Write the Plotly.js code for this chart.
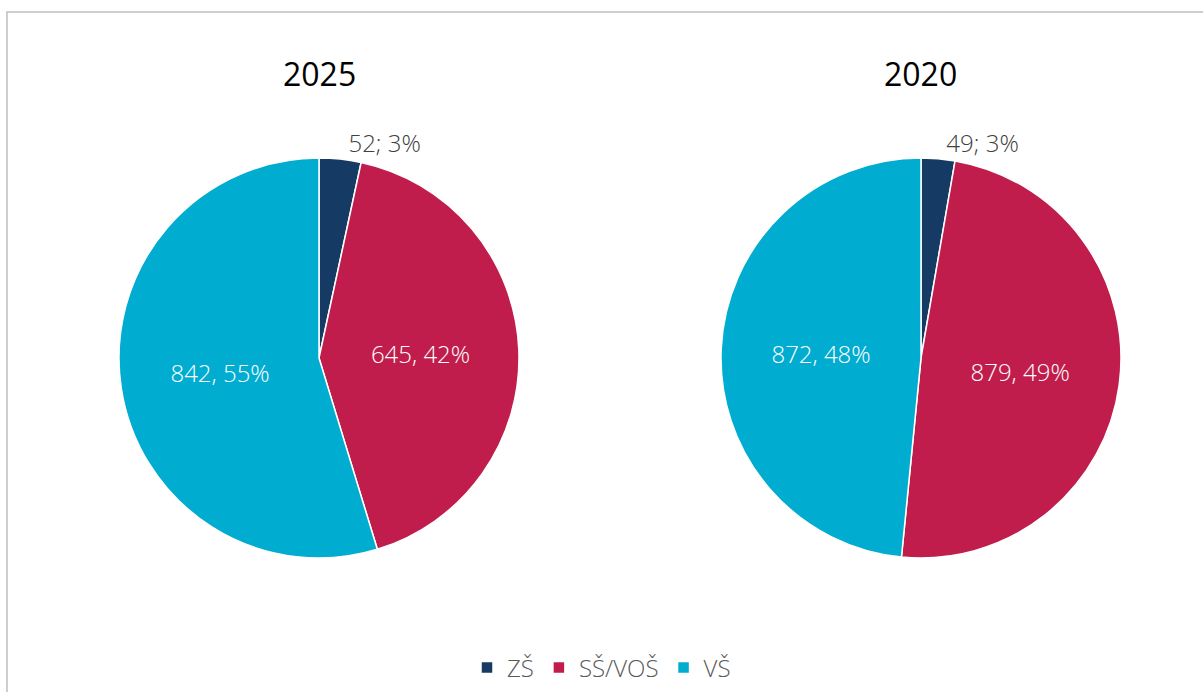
<!DOCTYPE html>
<html>
<head>
<meta charset="utf-8">
<script src="https://cdn.plot.ly/plotly-3.0.1.min.js"></script>
<style>html,body{margin:0;padding:0;background:#fff;}#chart{width:1203px;height:692px;}</style>
</head>
<body>
<div id="chart"></div>
<script>
const categories = ["ZŠ", "SŠ/VOŠ", "VŠ"];
const years = ["2025", "2020"];
const values2025 = [52, 645, 842];
const values2020 = [49, 879, 872];
const colors = ["#153a63", "#c01d4c", "#00acd0"];

const W = 1203, H = 692;
function px(x){return x/W;}
function py(y){return 1 - y/H;}

function pieTrace(values, xd, yd, showlegend){
  return {
    type: "pie",
    labels: categories,
    values: values,
    sort: false,
    direction: "clockwise",
    rotation: 0,
    domain: {x: xd, y: yd},
    marker: {colors: colors, line: {color: "#ffffff", width: 1.5}},
    texttemplate: ["%{value}; %{percent:.0%}", "%{value}, %{percent:.0%}", "%{value}, %{percent:.0%}"],
    textposition: ["outside", "inside", "inside"],
    insidetextorientation: "horizontal",
    textfont: {size: 24, family: "Open Sans", weight: 300},
    insidetextfont: {color: "#ffffff", size: 24, family: "Open Sans", weight: 300},
    outsidetextfont: {color: "#404040", size: 24, family: "Open Sans", weight: 300},
    automargin: false,
    showlegend: showlegend,
    hoverinfo: "label+value+percent"
  };
}
const t1 = pieTrace(values2025, [px(119), px(519)], [py(558), py(158)], true);
const t2 = pieTrace(values2020, [px(721), px(1121)], [py(558), py(158)], false);

const layout = {
  width: W, height: H,
  margin: {l: 0, r: 0, t: 0, b: 0},
  paper_bgcolor: "#ffffff",
  font: {family: "Open Sans", color: "#404040"},
  showlegend: true,
  legend: {orientation: "h", x: 0.5, xanchor: "center", y: py(668), yanchor: "middle",
           font: {size: 24, color: "#595959", weight: 300}, itemwidth: 30, tracegroupgap: 0},
  annotations: [
    {text: years[0], x: px(319), y: py(73), xref: "paper", yref: "paper", showarrow: false,
     font: {size: 32, color: "#000000", family: "Open Sans"}, xanchor: "center", yanchor: "middle"},
    {text: years[1], x: px(921), y: py(73), xref: "paper", yref: "paper", showarrow: false,
     font: {size: 32, color: "#000000", family: "Open Sans"}, xanchor: "center", yanchor: "middle"}
  ],
  shapes: [
    {type: "rect", xref: "paper", yref: "paper", x0: px(7), x1: px(1215), y0: py(705), y1: py(12),
     line: {color: "#bfbfbf", width: 1.5}, fillcolor: "rgba(0,0,0,0)", layer: "below"}
  ]
};
Plotly.newPlot("chart", [t1, t2], layout, {displayModeBar: false, staticPlot: true});
</script>
</body>
</html>
